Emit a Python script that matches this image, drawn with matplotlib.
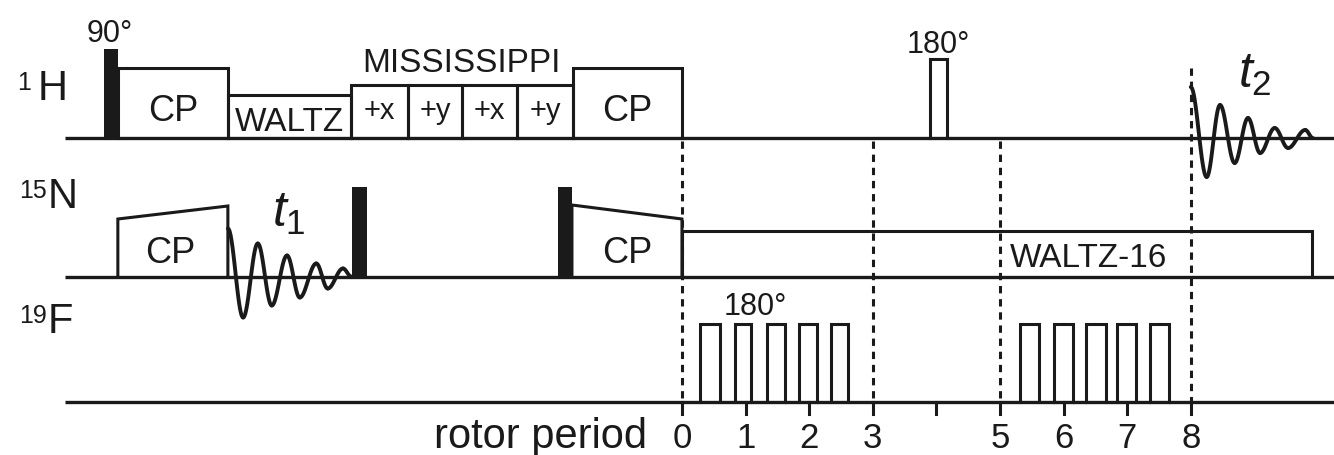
import numpy as np
import matplotlib
matplotlib.use("Agg")
import matplotlib.pyplot as plt

plt.rcParams['font.family'] = ['Liberation Sans', 'DejaVu Sans']
plt.rcParams['mathtext.fontset'] = 'custom'
plt.rcParams['mathtext.rm'] = 'Liberation Sans'
plt.rcParams['mathtext.it'] = 'Liberation Sans:italic'

# x in rotor periods (0 = end of second CP), y in image rows (top = 0)
base_H, base_N, base_F = 138, 276.5, 402
line_start = -9.70

# 1H channel: open boxes (start, end, top)
h_boxes = [(-8.87, -7.14, 68), (-7.14, -5.20, 95), (-5.20, -4.31, 85), (-4.31, -3.46, 85),
           (-3.46, -2.59, 85), (-2.59, -1.71, 85), (-1.71, 0.0, 68), (3.90, 4.17, 59)]
h_box_text = ["CP", "WALTZ", "+x", "+y", "+x", "+y", "CP", ""]
h_text_base = [121, 131, 119, 119, 119, 119, 121, 0]
h_black = [(-9.09, -8.87, 49)]

# 15N channel: (start, end, top left, top right)
n_boxes = [(-8.87, -7.14, 219, 206), (-1.73, 0.0, 205, 219), (0.0, 9.91, 231, 231)]
n_black = [(-5.19, -4.95, 187), (-1.95, -1.73, 187)]

# 19F 180 pulse trains
f_starts = [0.29, 0.83, 1.33, 1.84, 2.34, 5.31, 5.85, 6.35, 6.84, 7.36]
f_ends = [0.59, 1.08, 1.62, 2.12, 2.61, 5.61, 6.15, 6.67, 7.14, 7.66]
f_top = 324

# FID extrema (x, height above baseline in px)
t1_x = [-7.14, -6.90, -6.67, -6.45, -6.21, -6.01, -5.75, -5.57, -5.33, -5.20]
t1_y = [48, -41, 33, -29, 21, -21, 13, -12, 8, 0]
t2_x = [8.0, 8.25, 8.46, 8.69, 8.90, 9.09, 9.32, 9.53, 9.80, 9.92]
t2_y = [51, -39, 33, -25, 20, -15, 10, -10, 8, 0]

# rotor period ticks and dashed markers
rotor_ticks = [0, 1, 2, 3, 4, 5, 6, 7, 8]
rotor_labels = ["0", "1", "2", "3", "", "5", "6", "7", "8"]
dashed_x = [0, 3, 5, 8]
dashed_top = [141, 141, 141, 68]

fig = plt.figure(figsize=(13.34, 4.55), dpi=100)
ax = fig.add_axes([0, 0, 1, 1])
ax.set_xlim(-10.723, 10.252)
ax.set_ylim(455, 0)
ax.axis("off")

lw = 2.2
k = "#1a1a1a"

for yb in [base_H, base_N, base_F]:
    ax.plot([line_start, 10.3], [yb, yb], color=k, lw=2.4, solid_capstyle="butt")

def open_box(x0, x1, yb, ytl, ytr):
    ax.plot([x0, x0, x1, x1], [yb, ytl, ytr, yb], color=k, lw=lw, solid_joinstyle="miter")

def black(x0, x1, yb, yt):
    ax.fill([x0, x0, x1, x1], [yb, yt, yt, yb], color=k, lw=0)

def fid(xs, ys, yb):
    for i in range(len(xs) - 1):
        s = np.linspace(0, 1, 30)
        xx = xs[i] + (xs[i + 1] - xs[i]) * s
        yy = ys[i] + (ys[i + 1] - ys[i]) * (1 - np.cos(np.pi * s)) / 2
        ax.plot(xx, yb - yy, color=k, lw=2.8, solid_capstyle="round")

# 1H
for (x0, x1, top), txt, tb in zip(h_boxes, h_box_text, h_text_base):
    open_box(x0, x1, base_H, top, top)
    if txt:
        fs = 21 if txt in ("+x", "+y") else 26
        if txt == "WALTZ":
            fs = 24
        ax.text((x0 + x1) / 2, tb, txt, ha="center", va="baseline", fontsize=fs, color=k)
for x0, x1, top in h_black:
    black(x0, x1, base_H, top)
ax.text(-8.99, 42, "90°", ha="center", va="baseline", fontsize=22, color=k)
ax.text(-3.46, 72, "MISSISSIPPI", ha="center", va="baseline", fontsize=24, color=k)
ax.text(4.03, 53, "180°", ha="center", va="baseline", fontsize=22, color=k)
fid(t2_x, t2_y, base_H)
ax.text(8.75, 88, "$t_2$", ha="left", va="baseline", fontsize=36, color=k)

# 15N
for x0, x1, tl, tr in n_boxes:
    open_box(x0, x1, base_N, tl, tr)
for x0, x1, top in n_black:
    black(x0, x1, base_N, top)
ax.text(-8.05, 263, "CP", ha="center", va="baseline", fontsize=26, color=k)
ax.text(-0.86, 263, "CP", ha="center", va="baseline", fontsize=26, color=k)
ax.text(5.15, 267, "WALTZ-16", ha="left", va="baseline", fontsize=24, color=k)
fid(t1_x, t1_y, base_N)
ax.text(-6.45, 227, "$t_1$", ha="left", va="baseline", fontsize=36, color=k)

# 19F
for x0, x1 in zip(f_starts, f_ends):
    open_box(x0, x1, base_F, f_top, f_top)
ax.text(1.15, 315, "180°", ha="center", va="baseline", fontsize=22, color=k)

# channel labels
for (sx, nx, yb, sup, nuc) in [(-10.45, -10.13, 100, "1", "H"),
                                (-10.43, -9.97, 208, "15", "N"),
                                (-10.43, -9.97, 333, "19", "F")]:
    ax.text(sx, yb - 10, sup, ha="left", va="baseline", fontsize=18, color=k)
    ax.text(nx, yb, nuc, ha="left", va="baseline", fontsize=30, color=k)

# dashed rotor markers
for x, yt in zip(dashed_x, dashed_top):
    ax.plot([x, x], [yt, base_F], color=k, lw=2.2, linestyle=(0, (2.4, 1.9)))

# rotor period axis
for t, lab in zip(rotor_ticks, rotor_labels):
    ax.plot([t, t], [base_F, base_F + 12], color=k, lw=2.2)
    if lab:
        ax.text(t, 448, lab, ha="center", va="baseline", fontsize=25, color=k)
ax.text(-0.55, 448, "rotor period", ha="right", va="baseline", fontsize=30, color=k)

fig.savefig("out.png", dpi=100, facecolor="white")
